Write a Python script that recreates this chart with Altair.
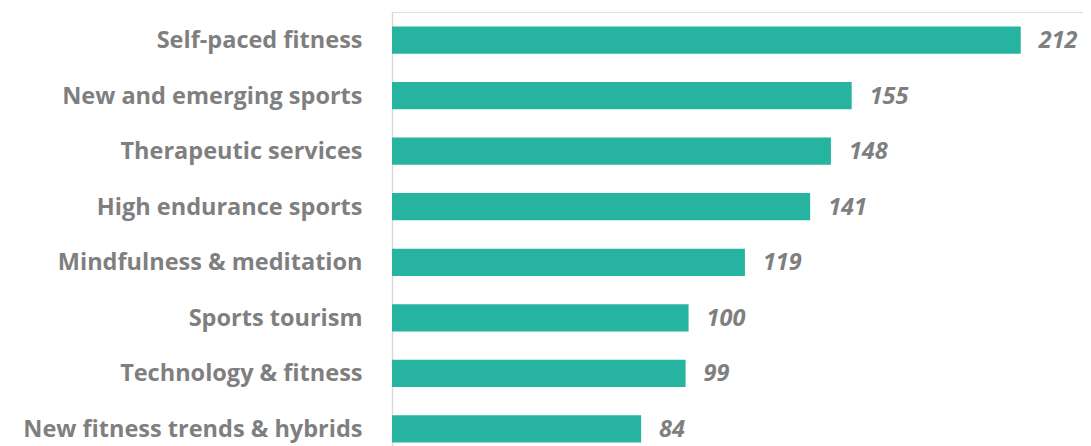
import altair as alt
import pandas as pd

categories = [
    "Self-paced fitness",
    "New and emerging sports",
    "Therapeutic services",
    "High endurance sports",
    "Mindfulness & meditation",
    "Sports tourism",
    "Technology & fitness",
    "New fitness trends & hybrids",
]
values = [212, 155, 148, 141, 119, 100, 99, 84]

df = pd.DataFrame({"category": categories, "value": values})

FONT = "Open Sans"
GREY = "#7F7F7F"

y = alt.Y(
    "category:N",
    sort=categories,
    title=None,
    scale=alt.Scale(paddingInner=0.51, paddingOuter=0.26),
    axis=alt.Axis(
        labelFont=FONT,
        labelFontSize=23.5,
        labelFontWeight="bold",
        labelColor=GREY,
        labelPadding=30,
        labelOffset=1,
        ticks=False,
        domainColor="#D9D9D9",
        domainWidth=1.5,
        labelLimit=400,
    ),
)
x = alt.X("value:Q", title=None, scale=alt.Scale(domain=[0, 233], nice=False), axis=None)

bars = alt.Chart(df).mark_bar(color="#26B3A0").encode(x=x, y=y)
labels = alt.Chart(df).mark_text(
    align="left",
    baseline="middle",
    dx=18,
    dy=1,
    font=FONT,
    fontSize=23.5,
    fontWeight="bold",
    fontStyle="italic",
    color=GREY,
).encode(x=x, y=y, text="value:Q")

chart = (
    alt.layer(bars, labels)
    .properties(
        width=691,
        height=445,
        autosize=alt.AutoSizeParams(type="none"),
        padding={"left": 384, "top": 4, "right": 0, "bottom": 0},
    )
    .configure_view(stroke=None)
    .configure(background="white")
)

chart.save("out.html", embed_options={"renderer": "svg", "actions": False})
